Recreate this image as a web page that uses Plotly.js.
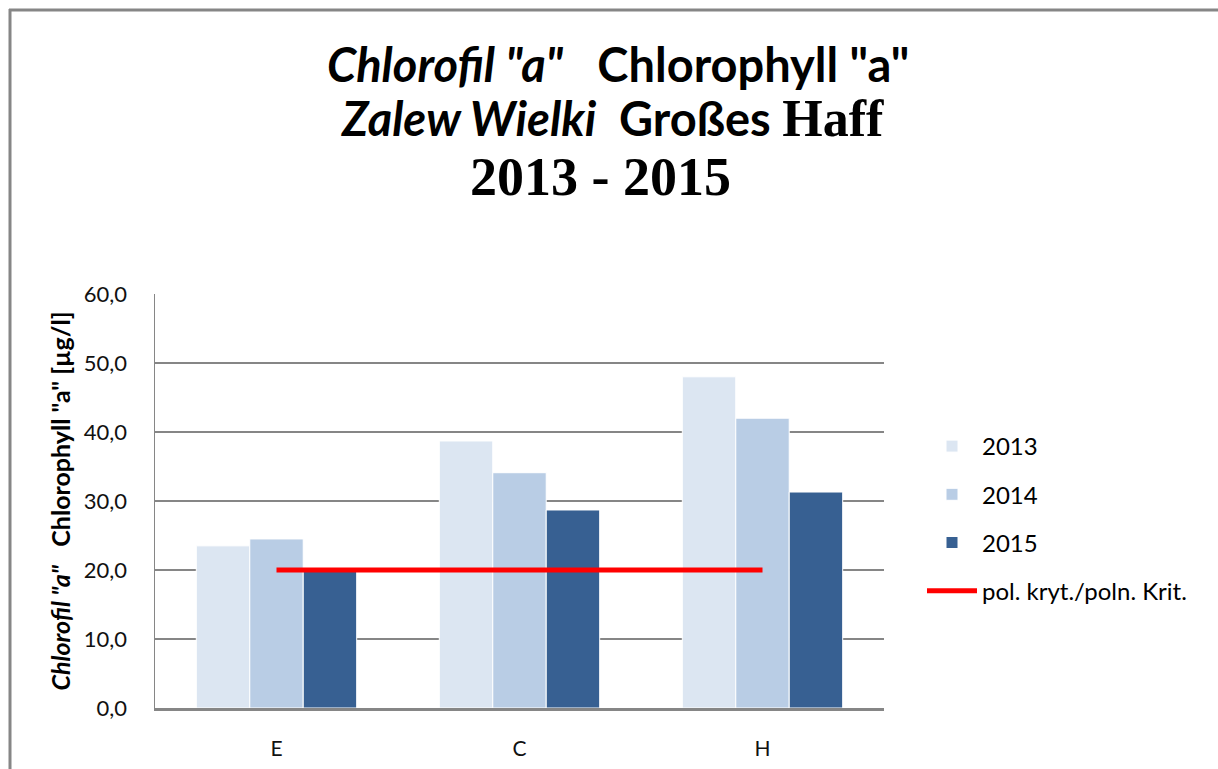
<!DOCTYPE html>
<html>
<head>
<meta charset="utf-8">
<script src="https://cdn.plot.ly/plotly-3.0.1.min.js"></script>
<style>
html,body{margin:0;padding:0;background:#fff;}
#chart{width:1218px;height:769px;}
</style>
</head>
<body>
<div id="chart"></div>
<script>
const categories = ['E', 'C', 'H'];
const years = ['2013', '2014', '2015'];
const values2013 = [23.5, 38.7, 48.0];
const values2014 = [24.5, 34.1, 42.0];
const values2015 = [19.8, 28.7, 31.3];
const criterionName = 'pol. kryt./poln. Krit.';
const criterionValues = [20, 20, 20];
const yTickValues = [0, 10, 20, 30, 40, 50, 60];

const colors = ['#DCE6F2', '#B9CDE5', '#376092'];
const sans = 'Lato, "Open Sans", sans-serif';
const serif = '"Liberation Serif", "DejaVu Serif", serif';

const seriesValues = [values2013, values2014, values2015];
const traces = years.map((yr, i) => ({
  type: 'bar',
  name: yr,
  x: categories,
  y: seriesValues[i],
  legendgroup: 'g' + i,
  marker: {color: colors[i], line: {color: '#ffffff', width: 1}},
  hoverinfo: 'x+y+name'
}));
traces.push({
  type: 'scatter',
  mode: 'lines',
  name: criterionName,
  x: categories,
  y: criterionValues,
  legendgroup: 'g3',
  line: {color: '#FF0000', width: 5}
});

const L = 155, R = 884, T = 294, B = 708;
const W = 1218, H = 769;
const pw = R - L, ph = B - T;
const px = v => (v - L) / pw;
const py = v => (B - v) / ph;

const layout = {
  width: W, height: H,
  margin: {l: L, r: W - R, t: T, b: H - B, pad: 0},
  paper_bgcolor: '#ffffff',
  plot_bgcolor: '#ffffff',
  showlegend: true,
  barmode: 'group',
  bargap: 0.34,
  bargroupgap: 0.0,
  separators: ',.',
  font: {family: sans, color: '#000000'},
  xaxis: {
    type: 'category',
    categoryarray: categories,
    showgrid: false,
    showline: true,
    linecolor: '#868686',
    linewidth: 2.5,
    ticks: '',
    ticklabelstandoff: 20,
    tickfont: {family: sans, size: 21, color: '#111111'},
    zeroline: false
  },
  yaxis: {
    range: [0, 60],
    tickvals: yTickValues,
    tickformat: '.1f',
    showgrid: true,
    gridcolor: '#868686',
    gridwidth: 1.5,
    showline: true,
    linecolor: '#868686',
    linewidth: 1.5,
    zeroline: false,
    ticks: '',
    ticklabelstandoff: 22,
    tickfont: {family: sans, size: 22, color: '#111111'},
    title: {
      text: '<i>Chlorofil "a"</i>\u00a0\u00a0\u00a0Chlorophyll "a" [µg/l]',
      font: {family: sans, size: 25, weight: 'bold', color: '#000000'},
      standoff: 6
    }
  },
  legend: {
    x: px(922), y: py(424), xanchor: 'left', yanchor: 'top',
    font: {family: sans, size: 24, color: '#000000'},
    tracegroupgap: 14,
    traceorder: 'grouped',
    itemwidth: 50,
    bgcolor: 'rgba(0,0,0,0)'
  },
  annotations: [
    {xref: 'paper', yref: 'paper', x: px(618), y: py(64), xanchor: 'center', yanchor: 'middle', showarrow: false,
     text: '<i>Chlorofil "a"</i>\u00a0\u00a0\u00a0Chlorophyll "a"',
     font: {family: sans, size: 47, weight: 'bold', color: '#000000'}},
    {xref: 'paper', yref: 'paper', x: px(612), y: py(119), xanchor: 'center', yanchor: 'middle', showarrow: false,
     text: '<i>Zalew Wielki</i>\u00a0\u00a0Großes <span style="font-family:\'Liberation Serif\';font-size:52px">Haff</span>',
     font: {family: sans, size: 47, weight: 'bold', color: '#000000'}},
    {xref: 'paper', yref: 'paper', x: px(600), y: py(177), xanchor: 'center', yanchor: 'middle', showarrow: false,
     text: '2013 - 2015',
     font: {family: serif, size: 54, weight: 'bold', color: '#000000'}}
  ],
  shapes: [
    {type: 'line', xref: 'paper', yref: 'paper', x0: px(10), x1: px(10), y0: py(9), y1: py(775),
     line: {color: '#868686', width: 3}},
    {type: 'line', xref: 'paper', yref: 'paper', x0: px(9), x1: px(1218), y0: py(10), y1: py(10),
     line: {color: '#868686', width: 3}}
  ]
};

Plotly.newPlot('chart', traces, layout, {displayModeBar: false, staticPlot: true});
</script>
</body>
</html>
